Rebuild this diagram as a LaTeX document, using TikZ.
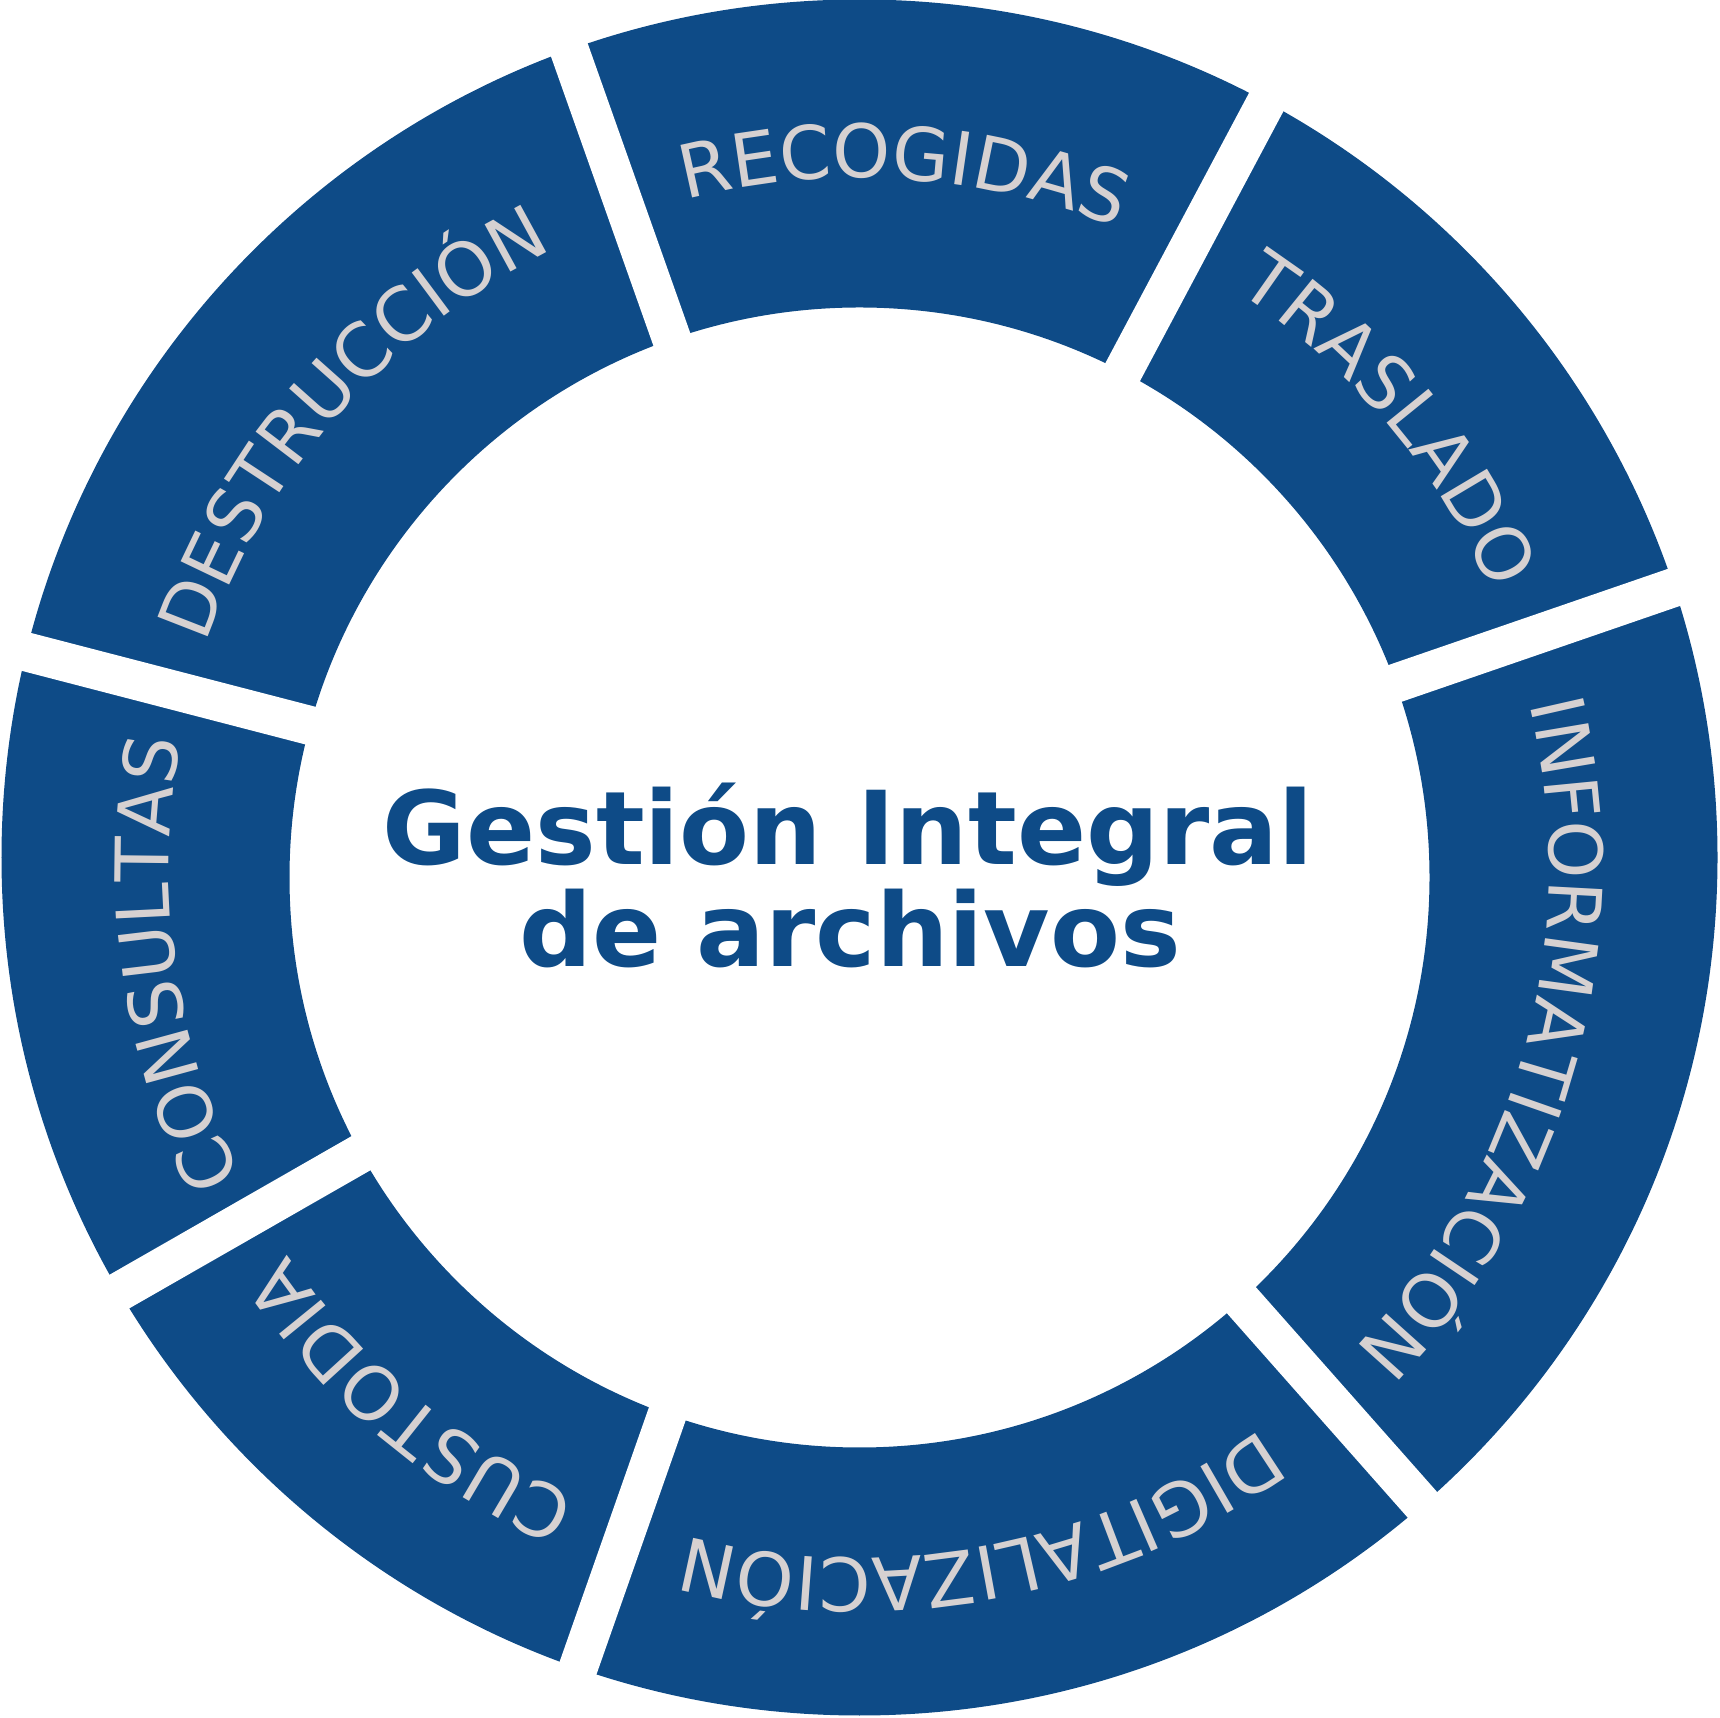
\documentclass[tikz,border=0pt]{standalone}
\usepackage{fontspec}
\setmainfont{DejaVu Sans}
\usetikzlibrary{decorations.text}
\definecolor{archblue}{RGB}{14,75,135}
\definecolor{archgrey}{RGB}{214,209,209}
\newcommand{\ringfont}{\fontsize{21}{21}\selectfont}
\newcommand{\titlefont}{\fontsize{29}{29}\selectfont\bfseries}

\begin{document}
\begin{tikzpicture}[ring/.style = {fill=archblue, even odd rule}, gap/.style = {draw=white, line width=0.39cm}, seglabel/.style = {decorate, decoration={text along path, text align=center, text color=archgrey}}, heading/.style = {text=archblue, font=\titlefont, anchor=base, inner sep=0pt}]
\useasboundingbox (0,0) rectangle (17.20,17.17);
\coordinate (oc) at (8.595,8.595);
\coordinate (ic) at (8.595,8.395);
\coordinate (gc) at (8.59,8.49);
\fill[ring] (oc) circle[radius=8.58] (ic) circle[radius=5.70];
\draw[gap] (gc) -- ++(109.5:9);
\draw[gap] (gc) -- ++(62:9);
\draw[gap] (gc) -- ++(19:9);
\draw[gap] (gc) -- ++(-48.5:9);
\draw[gap] (gc) -- ++(-109.35:9);
\draw[gap] (gc) -- ++(209.8:9);
\draw[gap] (gc) -- ++(165.45:9);
\begin{scope}[execute at begin scope=\ringfont]
\path[seglabel, decoration={text={RECOGIDAS}}] ([shift={(136.3:6.9)}]gc) arc[start angle=136.3, end angle=36.3, radius=6.9];
\path[seglabel, decoration={text={TRASLADO}}] ([shift={(90.2:6.9)}]gc) arc[start angle=90.2, end angle=-9.8, radius=6.9];
\path[seglabel, decoration={text={INFORMATIZACIÓN}}] ([shift={(44.8:6.9)}]gc) arc[start angle=44.8, end angle=-75.2, radius=6.9];
\path[seglabel, decoration={text={DIGITALIZACIÓN}}] ([shift={(-19.4:6.9)}]gc) arc[start angle=-19.4, end angle=-139.4, radius=6.9];
\path[seglabel, decoration={text={CUSTODIA}}] ([shift={(280:6.9)}]gc) arc[start angle=280, end angle=180, radius=6.9];
\path[seglabel, decoration={text={CONSULTAS}}] ([shift={(238:6.9)}]gc) arc[start angle=238, end angle=138, radius=6.9];
\path[seglabel, decoration={text={DESTRUCCIÓN}}] ([shift={(193.7:6.9)}]gc) arc[start angle=193.7, end angle=83.7, radius=6.9];
\end{scope}
\node[heading] (title1) at (8.48,8.52) {Gestión Integral};
\node[heading] (title2) at (8.50,7.50) {de archivos};
\end{tikzpicture}
\end{document}
